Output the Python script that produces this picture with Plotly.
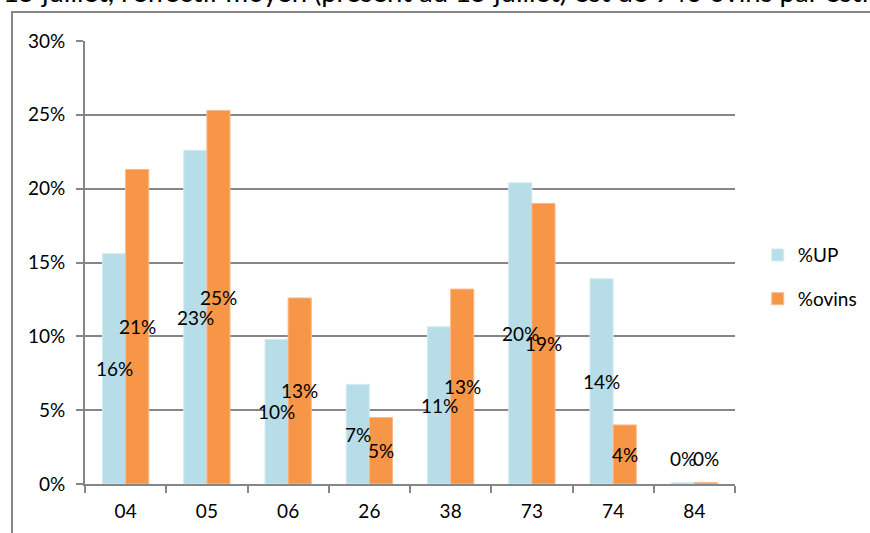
import plotly.graph_objects as go

categories = ["04", "05", "06", "26", "38", "73", "74", "84"]
pct_up = [15.6, 22.6, 9.8, 6.75, 10.65, 20.4, 13.9, 0.1]
pct_ovins = [21.3, 25.3, 12.6, 4.5, 13.2, 19.0, 4.0, 0.1]
labels_up = ["16%", "23%", "10%", "7%", "11%", "20%", "14%", "0%"]
labels_ovins = ["21%", "25%", "13%", "5%", "13%", "19%", "4%", "0%"]
y_ticks = [0, 5, 10, 15, 20, 25, 30]
y_tick_text = ["0%", "5%", "10%", "15%", "20%", "25%", "30%"]
header_text = "15 juillet, l'effectif moyen (présent au 15 juillet) est de 940 ovins par estive"

FONT = "Lato"
FS = 19
W, H = 870, 533
L, R, T, B = 85, 135, 41, 49
pw, ph = W - L - R, H - T - B
BARGAP = 0.43
half_bar_px = pw / len(categories) * (1 - BARGAP) / 4  # centre offset of each bar in group

fig = go.Figure()
fig.add_trace(go.Bar(
    x=categories, y=pct_up, name="%UP",
    marker=dict(color="#B7DEE8", line=dict(color="#D4ECF2", width=1)),
    legendgroup="a",
))
fig.add_trace(go.Bar(
    x=categories, y=pct_ovins, name="%ovins",
    marker=dict(color="#F79646", line=dict(color="#FAB98A", width=1)),
    legendgroup="b",
))

# data labels drawn above all bars (centred in each bar); x = category index
for vals, labs, sign in ((pct_up, labels_up, -1), (pct_ovins, labels_ovins, 1)):
    for i, (v, t) in enumerate(zip(vals, labs)):
        fig.add_annotation(x=i, y=(v / 2 if v >= 1 else 1.7), text=t,
                           xref="x", yref="y", showarrow=False,
                           xshift=sign * half_bar_px,
                           font=dict(family=FONT, size=FS, color="black"))

fig.update_layout(
    width=W, height=H,
    margin=dict(l=L, r=R, t=T, b=B, autoexpand=False),
    paper_bgcolor="white", plot_bgcolor="white",
    font=dict(family=FONT, size=FS, color="black"),
    barmode="group", bargap=BARGAP, bargroupgap=0,
    showlegend=True,
    legend=dict(x=1.035, y=0.467, xanchor="left", yanchor="middle",
                font=dict(family=FONT, size=FS), tracegroupgap=16,
                traceorder="grouped", itemwidth=30, bgcolor="rgba(0,0,0,0)"),
    xaxis=dict(type="category", categoryorder="array", categoryarray=categories,
               range=[-0.5, len(categories) - 0.5],
               showline=True, linecolor="#868686", linewidth=2,
               ticks="outside", ticklen=7, tickcolor="#868686", tickwidth=2,
               tickson="boundaries", showgrid=False, tickfont=dict(size=FS),
               ticklabelstandoff=9, tickangle=0),
    yaxis=dict(range=[0, 30], tickvals=y_ticks, ticktext=y_tick_text,
               showline=True, linecolor="#868686", linewidth=2,
               ticks="outside", ticklen=7, tickcolor="#868686", tickwidth=2,
               showgrid=True, gridcolor="#868686", gridwidth=2,
               zeroline=False, ticklabelstandoff=7, tickfont=dict(size=FS)),
)

# outer chart border (document frame)
fig.add_shape(type="rect", xref="paper", yref="paper",
              x0=(12 - L) / pw, x1=(W + 20 - L) / pw,
              y0=(H - B - (H + 20)) / ph, y1=(H - B - 12) / ph,
              line=dict(color="#868686", width=2), fillcolor="rgba(0,0,0,0)",
              layer="below")

fig.add_annotation(text=header_text, xref="paper", yref="paper",
                   x=(1 - L) / pw, y=(H - B - 12) / ph,
                   xanchor="left", yanchor="bottom", showarrow=False,
                   font=dict(family=FONT, size=27.5, color="black"), yshift=2)

fig.write_html("out.html", config={"displayModeBar": False},
               post_script="document.body.style.margin='0';")
